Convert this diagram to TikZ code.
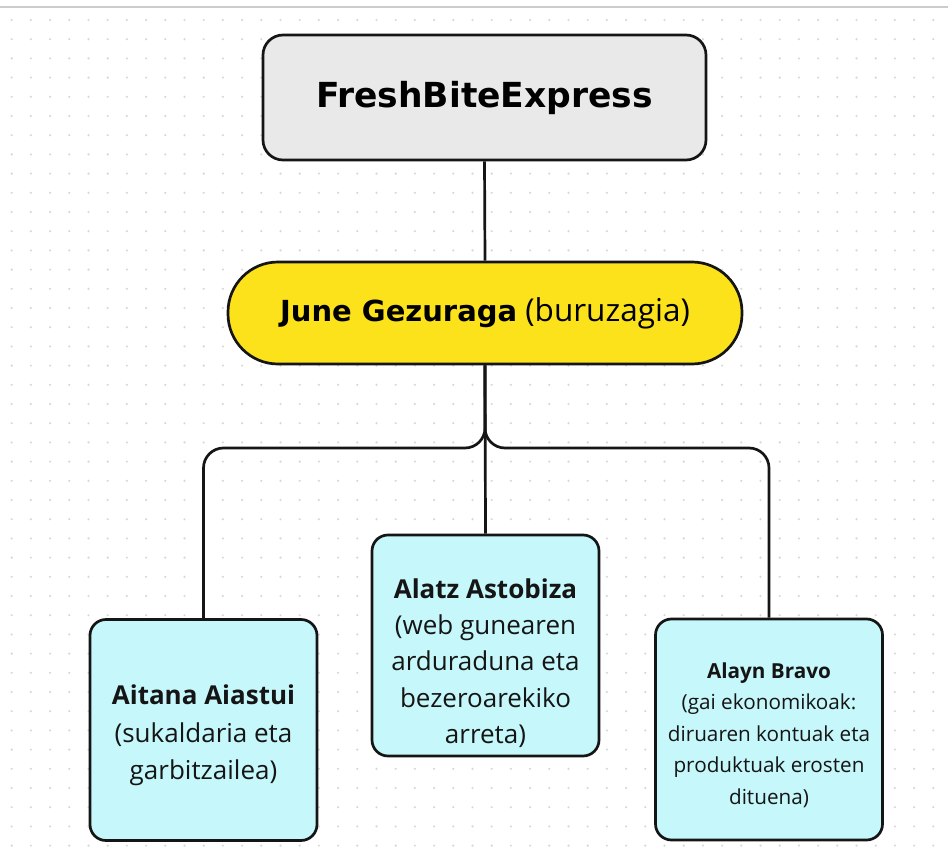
\documentclass[tikz,border=0pt]{standalone}
\usepackage{fontspec}
\setmainfont{Open Sans}
\newfontfamily\titlefont{DejaVu Sans}
\definecolor{linec}{HTML}{151515}
\definecolor{cyanbox}{HTML}{C6F7FA}
\definecolor{graybox}{HTML}{E9E9E9}
\definecolor{yellowbox}{HTML}{FCE21A}
\definecolor{dotc}{HTML}{D8D8D8}
\begin{document}
\begin{tikzpicture}[x=1pt,y=-1pt,
  link/.style={draw=linec, line width=2.7pt},
  cbox/.style={draw=linec, line width=2.7pt, rounded corners=16pt, fill=cyanbox,
    minimum width=227pt, minimum height=221pt, inner sep=0pt},
  btext/.style={align=center, inner sep=0pt, text=linec,
    font=\fontsize{26}{37.5}\selectfont},
  rtext/.style={align=center, inner sep=0pt, text=linec,
    font=\fontsize{20.7}{31.5}\selectfont}]
\useasboundingbox (0,0) rectangle (948,848);
\fill[white] (0,0) rectangle (948,848);
% dotted background
\foreach \i in {0,...,49}{
  \foreach \j in {0,...,43}{
    \fill[dotc] (11.7+19.2*\i, 20+19.2*\j) circle (1.2pt);
  }
}
\draw[draw=black!20, line width=1.5pt] (0,7) -- (948,7);

% nodes
\node[draw=linec, line width=2.7pt, rounded corners=20pt, fill=graybox,
  minimum width=443pt, minimum height=125pt, inner sep=0pt,
  font=\titlefont\bfseries\fontsize{34.5}{40}\selectfont] (top) at (484.5,97.5) {FreshBiteExpress};
\node[draw=linec, line width=2.7pt, rounded corners=50pt, fill=yellowbox,
  minimum width=514pt, minimum height=102pt, inner sep=0pt,
  font=\fontsize{31.5}{36}\selectfont] (boss) at (485,313)
  {{\titlefont\bfseries\fontsize{29}{36}\selectfont June Gezuraga} (buruzagia)};

\node[cbox] (left) at (203.5,730) {};
\node[cbox] (mid) at (485.5,645.5) {};
\node[cbox] (right) at (769,729.5) {};

\node[btext] (leftT) at (203.5,735.5) {\textbf{Aitana Aiastui}\\(sukaldaria eta\\garbitzailea)};
\node[btext, font=\fontsize{26}{36.3}\selectfont] (midT) at (485.5,663) {\textbf{Alatz Astobiza}\\(web gunearen\\arduraduna eta\\bezeroarekiko\\arreta)};
\node[rtext] (rightT) at (769,735) {\textbf{Alayn Bravo}\\(gai ekonomikoak:\\diruaren kontuak eta\\produktuak erosten\\dituena)};

% connectors
\path[link] (top.south) -- (boss.north);
\path[link] (boss.south) -- (mid.north);
\path[link, rounded corners=20pt] (boss.south) |- (left.north |- 0,448) -- (left.north);
\path[link, rounded corners=20pt] (boss.south) |- (right.north |- 0,448) -- (right.north);
\end{tikzpicture}
\end{document}
